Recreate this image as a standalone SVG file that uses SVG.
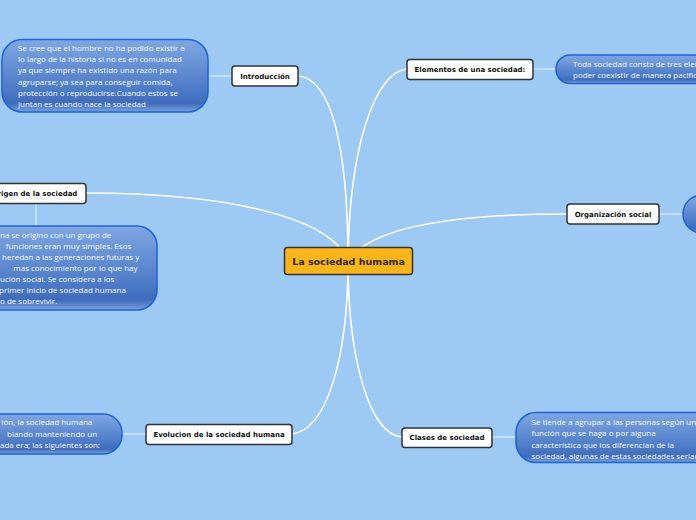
<svg xmlns="http://www.w3.org/2000/svg" width="696" height="520" viewBox="0 0 696 520">
<defs>
<linearGradient id="bub" x1="0" y1="0" x2="0" y2="1">
<stop offset="0" stop-color="#7fa7e3"/>
<stop offset="0.72" stop-color="#4a79c6"/>
<stop offset="0.88" stop-color="#3e6cbb"/>
<stop offset="1" stop-color="#79a3de"/>
</linearGradient>
<style>
.bub{fill:url(#bub);stroke:#1c63dc;stroke-width:1.5}
.bt{font-family:"Open Sans","Noto Sans",sans-serif;font-size:8px;fill:#f6f9ff}
.box{fill:#fff;stroke:#333;stroke-width:1.5}
.lbl{font-family:"DejaVu Sans",Verdana,sans-serif;font-weight:bold;font-size:7px;fill:#111;text-anchor:middle}
.cur{fill:none;stroke:#fff;stroke-width:1.6}
.str{fill:none;stroke:#dcebfb;stroke-width:1.2}
</style>
</defs>
<rect width="696" height="520" fill="#9ccaf4"/>
<g id="connectors">
<path class="cur" d="M298,76 C332,78 348,150 348,261"/>
<path class="cur" d="M407,69 C374,72 349,150 348,261"/>
<path class="cur" d="M86,193 C220,193 330,215 348,261"/>
<path class="cur" d="M567,214 C450,214 370,228 348,261"/>
<path class="cur" d="M292,434 C326,430 348,360 348,261"/>
<path class="cur" d="M402,437 C370,435 348,360 348,261"/>
<path class="str" d="M208,76 H232"/>
<path class="str" d="M533,69 H556"/>
<path class="str" d="M36,203 V226"/>
<path class="str" d="M659,214 H683"/>
<path class="str" d="M122,434 H146"/>
<path class="str" d="M492,437 H516"/>
</g>
<g id="central">
<rect x="284.5" y="247.5" width="128" height="27" rx="3" fill="#fbb516" stroke="#333" stroke-width="1.5"/>
<text x="348.5" y="264.5" font-family="DejaVu Sans,Verdana,sans-serif" font-weight="bold" font-size="9.5" fill="#2a2a2a" text-anchor="middle">La sociedad humama</text>
</g>
<g id="introduccion">
<rect class="box" x="232" y="66" width="66" height="20" rx="3"/>
<text class="lbl" x="265" y="78.5">Introducción</text>
</g>
<g id="introduccion-texto">
<rect class="bub" x="2" y="39.5" width="206" height="72.5" rx="20"/>
<text class="bt" x="18" y="50.7">Se cree que el hombre no ha podido existir a</text>
<text class="bt" x="18" y="62">lo largo de la historia si no es en comunidad</text>
<text class="bt" x="18" y="73.3">ya que siempre ha existido una razón para</text>
<text class="bt" x="18" y="84.6">agruparse; ya sea para conseguir comida,</text>
<text class="bt" x="18" y="95.9">protección o reproducirse.Cuando estos se</text>
<text class="bt" x="18" y="107.2">juntan es cuando nace la sociedad</text>
</g>
<g id="elementos">
<rect class="box" x="407" y="59.5" width="126" height="20" rx="3"/>
<text class="lbl" x="470" y="72">Elementos de una sociedad:</text>
</g>
<g id="elementos-texto">
<rect class="bub" x="556" y="55" width="170" height="28.5" rx="14"/>
<text class="bt" x="573" y="66.7">Toda sociedad consta de tres elementos para</text>
<text class="bt" x="573" y="78">poder coexistir de manera pacifica</text>
</g>
<g id="origen">
<rect class="box" x="-17" y="183.5" width="103" height="20" rx="3"/>
<text class="lbl" x="34.5" y="196">Origen de la sociedad</text>
</g>
<g id="origen-texto">
<rect class="bub" x="-22" y="226" width="179" height="84" rx="20"/>
<text class="bt" x="0" y="237.7">na se origino con un grupo de</text>
<text class="bt" x="5.7" y="248.8">funciones eran muy simples. Esos</text>
<text class="bt" x="2" y="259.9">heredan a las generaciones futuras y</text>
<text class="bt" x="13.3" y="271">mas conocimiento por lo que hay</text>
<text class="bt" x="0" y="282.1">ución social.  Se considera a los</text>
<text class="bt" x="-1" y="293.2">primer inicio de sociedad humana</text>
<text class="bt" x="0" y="304.3">o de sobrevivir.</text>
</g>
<g id="organizacion">
<rect class="box" x="567" y="204" width="92" height="20" rx="3"/>
<text class="lbl" x="613" y="216.5">Organización social</text>
</g>
<g id="organizacion-texto">
<rect class="bub" x="683" y="195" width="60" height="38" rx="19"/>
</g>
<g id="evolucion">
<rect class="box" x="146" y="424.5" width="146" height="20" rx="3"/>
<text class="lbl" x="219" y="437">Evolucion de la sociedad humana</text>
</g>
<g id="evolucion-texto">
<rect class="bub" x="-22" y="414" width="144" height="40" rx="19"/>
<text class="bt" x="1.5" y="425">ión, la sociedad humana</text>
<text class="bt" x="7" y="436.7">biando manteniendo un</text>
<text class="bt" x="0" y="448.3">ada era; las siguientes son:</text>
</g>
<g id="clases">
<rect class="box" x="402" y="428" width="90" height="19.5" rx="3"/>
<text class="lbl" x="447" y="440">Clases de sociedad</text>
</g>
<g id="clases-texto">
<rect class="bub" x="516" y="412.5" width="200" height="50" rx="20"/>
<text class="bt" x="531.5" y="424.5">Se tiende a agrupar a las personas según una</text>
<text class="bt" x="531.5" y="436">función que se haga o por alguna</text>
<text class="bt" x="531.5" y="447.5">característica  que los diferencian de la</text>
<text class="bt" x="531.5" y="459">sociedad, algunas de estas sociedades serian:</text>
</g>
</svg>
